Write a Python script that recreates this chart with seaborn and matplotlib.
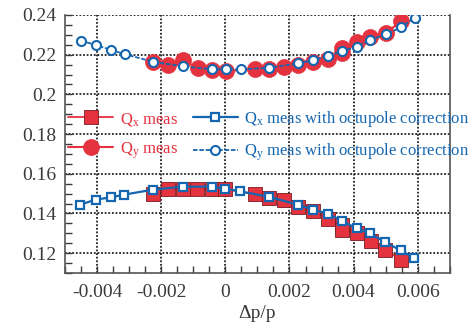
import matplotlib
matplotlib.use("Agg")
import matplotlib.pyplot as plt
from matplotlib.ticker import MultipleLocator, FormatStrFormatter
import seaborn as sns

# data
qx_meas_x = [-0.00225, -0.00180, -0.00133, -0.00089, -0.00043, -0.00001, 0.00094, 0.00137, 0.00184,
             0.00227, 0.00274, 0.00321, 0.00365, 0.00365, 0.00409, 0.00453, 0.00499, 0.00547]
qx_meas_y = [0.1500, 0.1522, 0.1525, 0.1525, 0.1525, 0.1522, 0.1496, 0.1480, 0.1466,
             0.1432, 0.1411, 0.1374, 0.1340, 0.1318, 0.1303, 0.1261, 0.1217, 0.1167]

qy_meas_x = [-0.00225, -0.00178, -0.00131, -0.00086, -0.00043, 0.00002, 0.00092, 0.00137, 0.00183,
             0.00227, 0.00274, 0.00320, 0.00365, 0.00365, 0.00409, 0.00452, 0.00500, 0.00549]
qy_meas_y = [0.2164, 0.2148, 0.2173, 0.2131, 0.2122, 0.2117, 0.2127, 0.2128, 0.2139,
             0.2150, 0.2164, 0.2180, 0.2207, 0.2232, 0.2262, 0.2290, 0.2310, 0.2368]

qx_corr_x = [-0.00453, -0.00404, -0.00357, -0.00315, -0.00225, -0.00133, -0.00043, -0.00001, 0.00045,
             0.00137, 0.00227, 0.00274, 0.00321, 0.00365, 0.00409, 0.00452, 0.00499, 0.00547, 0.00589]
qx_corr_y = [0.1444, 0.1470, 0.1481, 0.1495, 0.1520, 0.1535, 0.1535, 0.1525, 0.1512,
             0.1483, 0.1444, 0.1419, 0.1399, 0.1360, 0.1326, 0.1300, 0.1254, 0.1214, 0.1175]

qy_corr_x = [-0.00451, -0.00403, -0.00355, -0.00314, -0.00225, -0.00131, -0.00043, 0.00002, 0.00049,
             0.00137, 0.00227, 0.00274, 0.00320, 0.00365, 0.00409, 0.00452, 0.00500, 0.00549, 0.00590]
qy_corr_y = [0.2270, 0.2249, 0.2223, 0.2203, 0.2164, 0.2141, 0.2127, 0.2126, 0.2126,
             0.2134, 0.2156, 0.2173, 0.2195, 0.2218, 0.2240, 0.2274, 0.2303, 0.2338, 0.2386]

labels = ["Q$_\\mathrm{x}$ meas", "Q$_\\mathrm{y}$ meas",
          "Q$_\\mathrm{x}$ meas with octupole correction",
          "Q$_\\mathrm{y}$ meas with octupole correction"]

red = "#E5323F"
blue = "#1566B0"
dark = "#3a3a3a"

sns.set_style("ticks")
plt.rcParams["font.family"] = ["Liberation Serif", "DejaVu Serif"]
plt.rcParams["mathtext.fontset"] = "custom"
plt.rcParams["mathtext.rm"] = "Liberation Serif"
plt.rcParams["mathtext.it"] = "Liberation Serif:italic"
plt.rcParams["axes.unicode_minus"] = False

fig = plt.figure(figsize=(4.75, 3.28), dpi=100)
ax = fig.add_axes([0.1368, 0.1677, 0.8102, 0.7866])

sns.lineplot(x=qx_meas_x, y=qx_meas_y, ax=ax, estimator=None, sort=False, legend=False,
             color=red, lw=1.3, marker="s", markersize=9.5, markerfacecolor=red,
             markeredgecolor="#7a1c22", markeredgewidth=0.6, zorder=3)
sns.lineplot(x=qy_meas_x, y=qy_meas_y, ax=ax, estimator=None, sort=False, legend=False,
             color=red, lw=1.5, marker="o", markersize=11.5, markerfacecolor=red,
             markeredgecolor=red, markeredgewidth=0.5, zorder=3)
sns.lineplot(x=qx_corr_x, y=qx_corr_y, ax=ax, estimator=None, sort=False, legend=False,
             color=blue, lw=1.6, marker="s", markersize=6, markerfacecolor="white",
             markeredgecolor=blue, markeredgewidth=1.6, zorder=4)
sns.lineplot(x=qy_corr_x, y=qy_corr_y, ax=ax, estimator=None, sort=False, legend=False,
             color=blue, lw=1.3, linestyle=(0, (2.5, 1)), marker="o", markersize=6.5,
             markerfacecolor="white", markeredgecolor=blue, markeredgewidth=1.5, zorder=4)

ax.set_xlim(-0.005, 0.007)
ax.set_ylim(0.11, 0.24)
ax.xaxis.set_major_locator(MultipleLocator(0.002))
ax.xaxis.set_minor_locator(MultipleLocator(0.0005))
ax.yaxis.set_major_locator(MultipleLocator(0.02))
ax.yaxis.set_minor_locator(MultipleLocator(0.005))
ax.xaxis.set_major_formatter(FormatStrFormatter("%g"))
ax.yaxis.set_major_formatter(FormatStrFormatter("%g"))

ax.grid(True, which="major", color="#222222", linestyle=(0, (1, 1)), linewidth=1.3)
ax.tick_params(which="both", direction="in", length=5, width=1, color=dark,
               labelsize=14, labelcolor=dark, top=False, right=False)
ax.tick_params(axis="x", pad=8)
ax.tick_params(axis="y", pad=6)
for side in ["left", "bottom", "right"]:
    ax.spines[side].set_color("#555555")
    ax.spines[side].set_linewidth(1.2)
ax.spines["top"].set_visible(False)

ax.set_xlabel("Δp/p", fontsize=14, color=dark, labelpad=3)
ax.set_ylabel("")

handles = ax.get_lines()[:4]
leg = ax.legend(handles, labels, ncol=2, frameon=False, fontsize=12,
                loc="upper left", bbox_to_anchor=(68 / 475, 1 - 109 / 328),
                bbox_transform=fig.transFigure, borderpad=0, borderaxespad=0,
                handlelength=2.7, handletextpad=0.4, columnspacing=0.9, labelspacing=0.75)
for txt, c in zip(leg.get_texts(), [red, red, blue, blue]):
    txt.set_color(c)

fig.savefig("out.png", dpi=100)
